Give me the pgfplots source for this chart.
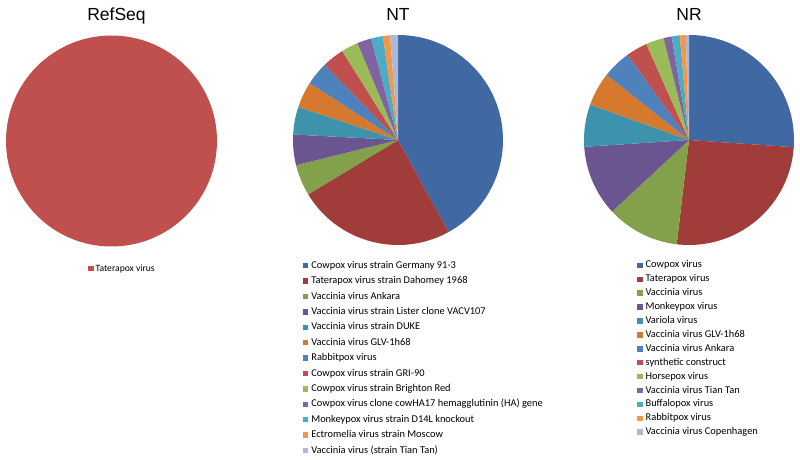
\documentclass[border=0pt]{standalone}
\usepackage{pgfplots}
\pgfplotsset{compat=1.18}
\usepackage{pgfplotstable}
\usepackage{fontspec}
\setmainfont{Carlito}
\newfontfamily\titlefont{Liberation Sans}

\definecolor{c0}{HTML}{4069A3}
\definecolor{c1}{HTML}{A03D3B}
\definecolor{c2}{HTML}{83A04A}
\definecolor{c3}{HTML}{6B5590}
\definecolor{c4}{HTML}{3D93AB}
\definecolor{c5}{HTML}{D5792F}
\definecolor{c6}{HTML}{4F81BD}
\definecolor{c7}{HTML}{C0504D}
\definecolor{c8}{HTML}{9BBB59}
\definecolor{c9}{HTML}{8064A2}
\definecolor{c10}{HTML}{4BACC6}
\definecolor{c11}{HTML}{F79646}
\definecolor{c12}{HTML}{A9B9DA}
\definecolor{r0}{HTML}{C0504D}

% RefSeq
\pgfplotstableread{
v
100
}\refdata
% NT
\pgfplotstableread{
v
42.0
24.3
4.8
4.7
4.25
4.0
3.6
3.4
2.6
2.2
1.8
1.1
1.2
}\ntdata
% NR
\pgfplotstableread{
v
26.1
25.8
11.2
10.9
6.5
5.2
4.4
3.3
2.75
1.25
1.25
0.9
0.5
}\nrdata

\newcommand{\drawpie}[3]{% table, colour prefix, radius
  \pgfplotsextra{%
    \gdef\pietotal{0}%
    \pgfplotstableforeachcolumnelement{v}\of#1\as\val{%
      \pgfmathsetmacro\tmp{\pietotal+\val}\xdef\pietotal{\tmp}}%
    \gdef\piecum{0}%
    \pgfplotstableforeachcolumnelement{v}\of#1\as\val{%
      \pgfmathsetmacro\fracA{\piecum/\pietotal}%
      \pgfmathsetmacro\fracB{(\piecum+\val)/\pietotal}%
      \pgfmathsetmacro\angA{90-360*\fracA}%
      \pgfmathsetmacro\angB{90-360*\fracB}%
      \edef\curcol{#2\pgfplotstablerow}%
      \fill[color=\curcol] (axis cs:0,0) -- ++(\angA:#3) arc[start angle=\angA, end angle=\angB, radius=#3] -- cycle;%
      \pgfmathsetmacro\tmp{\piecum+\val}\xdef\piecum{\tmp}%
    }%
  }%
}

\pgfplotsset{
  piestyle/.style={
    anchor=center, scale only axis, xmin=-1, xmax=1, ymin=-1, ymax=1,
    hide axis, clip=false, legend cell align=left,
    legend image code/.code={\fill[##1, draw=none] (0bp,-2.75bp) rectangle (5.5bp,2.75bp);},
    legend style={anchor=north west, draw=none, fill=none, inner sep=0pt,
      nodes={inner sep=0pt, text height=7bp, text depth=2bp},
      font=\fontsize{10.4bp}{12bp}\selectfont,
      /tikz/every odd column/.append style={column sep=3bp}},
  }
}

\begin{document}
\begin{tikzpicture}
\path[use as bounding box] (0,0) rectangle (800bp,460bp);

% RefSeq
\begin{axis}[piestyle, at={(111.5bp,319bp)}, width=211bp, height=211bp,
  legend style={at={(0.3886,-0.083)}, row sep=5bp, font=\fontsize{9.6bp}{11bp}\selectfont,
    /tikz/every odd column/.append style={column sep=2bp}}]
  \drawpie{\refdata}{r}{105.5bp}
  \addlegendimage{fill=r0}\addlegendentry{Taterapox virus}
\end{axis}

% NT
\begin{axis}[piestyle, at={(398bp,320bp)}, width=210bp, height=210bp,
  legend style={at={(0.046,-0.0762)}, row sep=6.4bp}]
  \drawpie{\ntdata}{c}{105bp}
  \addlegendimage{fill=c0}\addlegendentry{Cowpox virus strain Germany 91-3}
  \addlegendimage{fill=c1}\addlegendentry{Taterapox virus strain Dahomey 1968}
  \addlegendimage{fill=c2}\addlegendentry{Vaccinia virus Ankara}
  \addlegendimage{fill=c3}\addlegendentry{Vaccinia virus strain Lister clone VACV107}
  \addlegendimage{fill=c4}\addlegendentry{Vaccinia virus strain DUKE}
  \addlegendimage{fill=c5}\addlegendentry{Vaccinia virus GLV-1h68}
  \addlegendimage{fill=c6}\addlegendentry{Rabbitpox virus}
  \addlegendimage{fill=c7}\addlegendentry{Cowpox virus strain GRI-90}
  \addlegendimage{fill=c8}\addlegendentry{Cowpox virus strain Brighton Red}
  \addlegendimage{fill=c9}\addlegendentry{Cowpox virus clone cowHA17 hemagglutinin (HA) gene}
  \addlegendimage{fill=c10}\addlegendentry{Monkeypox virus strain D14L knockout}
  \addlegendimage{fill=c11}\addlegendentry{Ectromelia virus strain Moscow}
  \addlegendimage{fill=c12}\addlegendentry{Vaccinia virus (strain Tian Tan)}
\end{axis}

% NR
\begin{axis}[piestyle, at={(689bp,320bp)}, width=210bp, height=210bp,
  legend style={at={(0.252,-0.075)}, row sep=4.9bp}]
  \drawpie{\nrdata}{c}{105bp}
  \addlegendimage{fill=c0}\addlegendentry{Cowpox virus}
  \addlegendimage{fill=c1}\addlegendentry{Taterapox virus}
  \addlegendimage{fill=c2}\addlegendentry{Vaccinia virus}
  \addlegendimage{fill=c3}\addlegendentry{Monkeypox virus}
  \addlegendimage{fill=c4}\addlegendentry{Variola virus}
  \addlegendimage{fill=c5}\addlegendentry{Vaccinia virus GLV-1h68}
  \addlegendimage{fill=c6}\addlegendentry{Vaccinia virus Ankara}
  \addlegendimage{fill=c7}\addlegendentry{synthetic construct}
  \addlegendimage{fill=c8}\addlegendentry{Horsepox virus}
  \addlegendimage{fill=c9}\addlegendentry{Vaccinia virus Tian Tan}
  \addlegendimage{fill=c10}\addlegendentry{Buffalopox virus}
  \addlegendimage{fill=c11}\addlegendentry{Rabbitpox virus}
  \addlegendimage{fill=c12}\addlegendentry{Vaccinia virus Copenhagen}
\end{axis}

\node[font=\titlefont\fontsize{17.5bp}{20bp}\selectfont, anchor=base] at (116.5bp,439.3bp) {RefSeq};
\node[font=\titlefont\fontsize{17.5bp}{20bp}\selectfont, anchor=base] at (398bp,439.3bp) {NT};
\node[font=\titlefont\fontsize{17.5bp}{20bp}\selectfont, anchor=base] at (689bp,439.3bp) {NR};
\end{tikzpicture}
\end{document}
